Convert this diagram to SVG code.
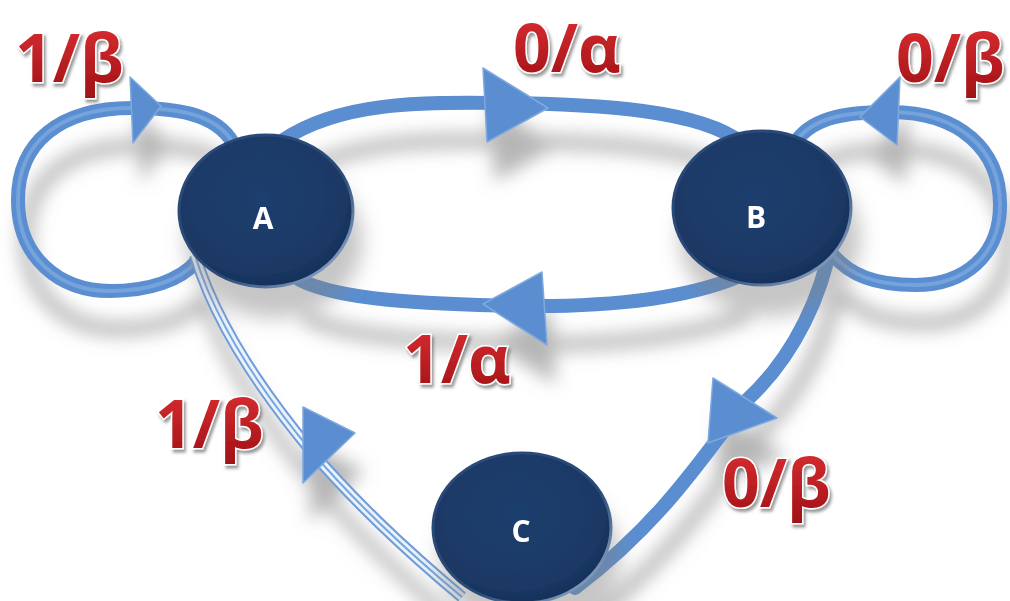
<svg xmlns="http://www.w3.org/2000/svg" width="1010" height="601" viewBox="0 0 1010 601">
  <defs>
    <filter id="edgeShadow" x="-20%" y="-20%" width="140%" height="160%">
      <feGaussianBlur in="SourceAlpha" stdDeviation="9" result="b"/>
      <feOffset in="b" dx="8" dy="38" result="o"/>
      <feFlood flood-color="#7a7a7a" flood-opacity="0.55"/>
      <feComposite in2="o" operator="in" result="s"/>
      <feMerge><feMergeNode in="s"/><feMergeNode in="SourceGraphic"/></feMerge>
    </filter>
    <filter id="nodeShadow" x="-30%" y="-30%" width="160%" height="170%">
      <feGaussianBlur in="SourceAlpha" stdDeviation="10" result="b"/>
      <feOffset in="b" dx="8" dy="30" result="o"/>
      <feFlood flood-color="#808080" flood-opacity="0.45"/>
      <feComposite in2="o" operator="in" result="s"/>
      <feMerge><feMergeNode in="s"/><feMergeNode in="SourceGraphic"/></feMerge>
    </filter>
    <filter id="textShadow" x="-20%" y="-20%" width="140%" height="150%">
      <feGaussianBlur in="SourceAlpha" stdDeviation="1.5" result="b"/>
      <feOffset in="b" dx="2" dy="3" result="o"/>
      <feFlood flood-color="#555" flood-opacity="0.6"/>
      <feComposite in2="o" operator="in" result="s"/>
      <feMerge><feMergeNode in="s"/><feMergeNode in="SourceGraphic"/></feMerge>
    </filter>
    <linearGradient id="redGrad" x1="0" y1="0" x2="0" y2="1">
      <stop offset="0" stop-color="#e23236"/>
      <stop offset="1" stop-color="#9c1014"/>
    </linearGradient>
    <radialGradient id="nodeGrad" cx="0.45" cy="0.4" r="0.6">
      <stop offset="0" stop-color="#1d3f6e"/>
      <stop offset="0.85" stop-color="#1a3864"/>
      <stop offset="1" stop-color="#16305a"/>
    </radialGradient>
    <linearGradient id="rimGrad" x1="0" y1="0" x2="1" y2="1">
      <stop offset="0" stop-color="#2a4a78"/>
      <stop offset="0.6" stop-color="#2a4a78"/>
      <stop offset="1" stop-color="#a9c0dc"/>
    </linearGradient>
  </defs>
  <style>
    .edge { fill: none; stroke: #5a8ed0; stroke-width: 14; stroke-linecap: round; }
    .hl { fill: none; stroke: #86b0e3; stroke-width: 4; stroke-linecap: round; opacity: 0.6; }
    .arrow { fill: #5a8ed0; stroke: #7fa9dd; stroke-width: 1.5; stroke-linejoin: round; }
    .dbl-o { fill: none; stroke: #6f9dd8; stroke-width: 12; }
    .dbl-i { fill: none; stroke: #eaf2fc; stroke-width: 8; }
    .dbl-c { fill: none; stroke: #7aa6dc; stroke-width: 2; }
    .node { fill: url(#nodeGrad); stroke: url(#rimGrad); stroke-width: 3; }
    .nlabel { font-family: "Open Sans", "Liberation Sans", sans-serif; font-weight: bold; font-size: 30px; fill: #ffffff; text-anchor: middle; }
    .elabel { font-family: "Open Sans", "Liberation Sans", sans-serif; font-weight: bold; font-size: 66px; fill: url(#redGrad); stroke: #ffffff; stroke-width: 3; paint-order: stroke; }
  </style>

  <g id="connectors" filter="url(#edgeShadow)">
    <g id="edge-A-A">
      <path class="edge" d="M 233,143 C 215,112 172,108 132,108 C 60,108 18,142 18,200 C 18,258 60,291 110,291 C 150,291 180,280 196,262"/>
      <path class="hl" d="M 233,143 C 215,112 172,108 132,108 C 60,108 18,142 18,200 C 18,258 60,291 110,291 C 150,291 180,280 196,262"/>
      <polygon class="arrow" points="130,77 161,106 133,143"/>
    </g>
    <g id="edge-A-B">
      <path class="edge" d="M 283,140 C 340,102 420,102 500,103 C 600,104 700,110 742,143"/>
      <polygon class="arrow" points="483,68 548,108 487,142"/>
    </g>
    <g id="edge-B-A">
      <path class="edge" d="M 735,278 C 680,300 600,307 520,306 C 420,304 340,300 300,280"/>
      <polygon class="arrow" points="483,304 542,272 547,345"/>
    </g>
    <g id="edge-B-B">
      <path class="edge" d="M 797,140 C 815,116 850,112 890,112 C 960,112 1000,150 1000,205 C 1000,255 965,285 915,285 C 875,285 850,275 833,255"/>
      <path class="hl" d="M 797,140 C 815,116 850,112 890,112 C 960,112 1000,150 1000,205 C 1000,255 965,285 915,285 C 875,285 850,275 833,255"/>
      <polygon class="arrow" points="860,117 900,77 897,145"/>
    </g>
    <g id="edge-B-C">
      <path class="edge" d="M 827,262 C 812,320 782,368 747,400 C 702,458 662,522 575,588"/>
      <polygon class="arrow" points="713,378 777,418 708,443"/>
    </g>
    <g id="edge-C-A">
      <path class="dbl-o" d="M 462,597 C 420,562 362,510 312,452 C 262,392 215,322 195,255"/>
      <path class="dbl-i" d="M 462,597 C 420,562 362,510 312,452 C 262,392 215,322 195,255"/>
      <path class="dbl-c" d="M 462,597 C 420,562 362,510 312,452 C 262,392 215,322 195,255"/>
      <polygon class="arrow" points="303,407 355,433 303,483"/>
    </g>
  </g>

  <g id="node-A" filter="url(#nodeShadow)">
    <ellipse class="node" cx="266" cy="211" rx="87" ry="76"/>
    <text class="nlabel" x="263" y="229">A</text>
  </g>
  <g id="node-B" filter="url(#nodeShadow)">
    <ellipse class="node" cx="762" cy="208" rx="89" ry="77"/>
    <text class="nlabel" x="756" y="228">B</text>
  </g>
  <g id="node-C" filter="url(#nodeShadow)">
    <ellipse class="node" cx="522" cy="528" rx="89" ry="75"/>
    <text class="nlabel" x="521" y="542">C</text>
  </g>

  <g id="labels" filter="url(#textShadow)">
    <text class="elabel" x="15" y="82">1/β</text>
    <text class="elabel" x="513" y="72">0/α</text>
    <text class="elabel" x="896" y="82">0/β</text>
    <text class="elabel" x="403" y="383">1/α</text>
    <text class="elabel" x="155" y="448">1/β</text>
    <text class="elabel" x="722" y="507">0/β</text>
  </g>
</svg>
